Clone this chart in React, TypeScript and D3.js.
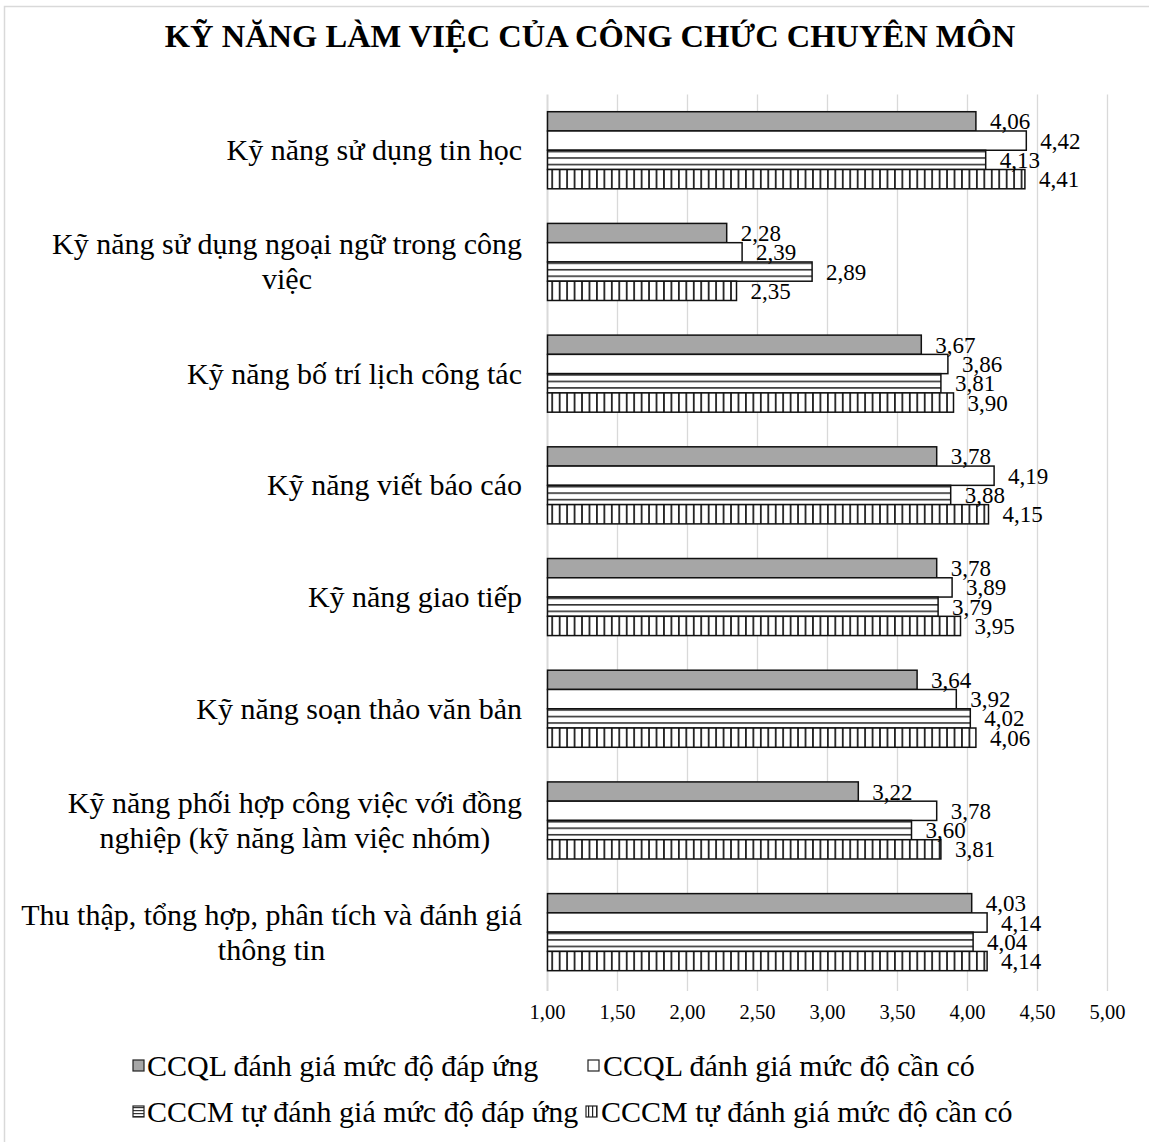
import React from "react";
import * as d3 from "d3";

const categories: string[][] = [
  ["Kỹ năng sử dụng tin học"],
  ["Kỹ năng sử dụng ngoại ngữ trong công", "việc"],
  ["Kỹ năng bố trí lịch công tác"],
  ["Kỹ năng viết báo cáo"],
  ["Kỹ năng giao tiếp"],
  ["Kỹ năng soạn thảo văn bản"],
  ["Kỹ năng phối hợp công việc với đồng", "nghiệp (kỹ năng làm việc nhóm)"],
  ["Thu thập, tổng hợp, phân tích và đánh giá", "thông tin"],
];

const seriesNames = [
  "CCQL đánh giá mức độ đáp ứng",
  "CCQL đánh giá mức độ cần có",
  "CCCM tự đánh giá mức độ đáp ứng",
  "CCCM tự đánh giá mức độ cần có",
];

const ccqlDapUng = [4.06, 2.28, 3.67, 3.78, 3.78, 3.64, 3.22, 4.03];
const ccqlCanCo = [4.42, 2.39, 3.86, 4.19, 3.89, 3.92, 3.78, 4.14];
const cccmDapUng = [4.13, 2.89, 3.81, 3.88, 3.79, 4.02, 3.6, 4.04];
const cccmCanCo = [4.41, 2.35, 3.9, 4.15, 3.95, 4.06, 3.81, 4.14];

const tickValues = [1, 1.5, 2, 2.5, 3, 3.5, 4, 4.5, 5];

const seriesData = [ccqlDapUng, ccqlCanCo, cccmDapUng, cccmCanCo];
const fills = ["#a6a6a6", "#ffffff", "url(#hstripe)", "url(#vstripe)"];
const legendFills = ["#a6a6a6", "#ffffff", "url(#hstripeS)", "url(#vstripeS)"];

const fmt = (v: number) => v.toFixed(2).replace(".", ",");
const FONT = "'Liberation Serif', 'Times New Roman', serif";

export default function App() {
  const W = 1149;
  const H = 1142;
  const x = d3.scaleLinear().domain([1, 5]).range([547.5, 1107.5]);
  const catKeys = categories.map((c) => c.join(" "));
  const y = d3
    .scaleBand<string>()
    .domain(catKeys)
    .range([94.4, 988])
    .paddingInner(0.31)
    .paddingOuter(0.155);
  const inner = d3
    .scaleBand<number>()
    .domain([0, 1, 2, 3])
    .range([0, y.bandwidth()]);

  const legendItems = [
    { sx: 133, tx: 147, y: 1066 },
    { sx: 588, tx: 603, y: 1066 },
    { sx: 133, tx: 147, y: 1112 },
    { sx: 586, tx: 601, y: 1112 },
  ];

  return (
    <svg
      width={W}
      height={H}
      style={{ position: "absolute", left: 0, top: 0, background: "#fff" }}
      fontFamily={FONT}
    >
      <defs>
        <pattern id="hstripe" patternUnits="userSpaceOnUse" width={8} height={6.5}>
          <rect width={8} height={6.5} fill="#fff" />
          <rect y={0} width={8} height={1.6} fill="#333" />
        </pattern>
        <pattern id="vstripe" patternUnits="userSpaceOnUse" width={7.45} height={8}>
          <rect width={7.45} height={8} fill="#fff" />
          <rect x={0} width={1.8} height={8} fill="#222" />
        </pattern>
        <pattern id="hstripeS" patternUnits="userSpaceOnUse" width={4} height={3}>
          <rect width={4} height={3} fill="#fff" />
          <rect y={0} width={4} height={1.2} fill="#333" />
        </pattern>
        <pattern id="vstripeS" patternUnits="userSpaceOnUse" width={4} height={4}>
          <rect width={4} height={4} fill="#fff" />
          <rect x={0} width={1.2} height={4} fill="#222" />
        </pattern>
      </defs>
      <rect x={0} y={0} width={W} height={H} fill="#fff" />
      <rect x={4.5} y={6.5} width={W + 20} height={H + 20} fill="none" stroke="#d9d9d9" strokeWidth={1.5} />

      <text x={590} y={47} textAnchor="middle" fontSize={32.5} fontWeight="bold">
        KỸ NĂNG LÀM VIỆC CỦA CÔNG CHỨC CHUYÊN MÔN
      </text>

      {/* gridlines */}
      {tickValues.map((t) => (
        <line
          key={t}
          x1={x(t)}
          x2={x(t)}
          y1={94.4}
          y2={991}
          stroke="#d9d9d9"
          strokeWidth={t === 1 ? 2 : 1.3}
        />
      ))}

      {/* tick labels */}
      {tickValues.map((t) => (
        <text key={"l" + t} x={x(t)} y={1019} textAnchor="middle" fontSize={20.5} fill="#000">
          {fmt(t)}
        </text>
      ))}

      {/* bars */}
      {catKeys.map((k, ci) => (
        <g key={k} transform={`translate(0,${y(k)})`}>
          {seriesData.map((s, si) => (
            <rect
              key={si}
              x={x(1)}
              y={inner(si)}
              width={x(s[ci]) - x(1)}
              height={inner.bandwidth()}
              fill={fills[si]}
              stroke="#111"
              strokeWidth={1.5}
            />
          ))}
          {seriesData.map((s, si) => (
            <text
              key={"v" + si}
              x={x(s[ci]) + 14}
              y={(inner(si) as number) + inner.bandwidth() / 2 + 8}
              fontSize={23}
              fill="#000"
            >
              {fmt(s[ci])}
            </text>
          ))}
        </g>
      ))}

      {/* category labels */}
      {categories.map((lines, ci) => {
        const cy = (y(catKeys[ci]) as number) + y.bandwidth() / 2;
        const lh = 35;
        const top = cy - ((lines.length - 1) * lh) / 2;
        return (
          <g key={"c" + ci}>
            {lines.map((ln, li) => (
              <text
                key={li}
                x={lines.length > 1 ? 0 : 522}
                y={top + li * lh + 10}
                textAnchor={lines.length > 1 ? "middle" : "end"}
                fontSize={30}
                fill="#000"
                className={lines.length > 1 ? "ml" : undefined}
                data-ci={ci}
              >
                {ln}
              </text>
            ))}
          </g>
        );
      })}

      {/* legend */}
      {legendItems.map((it, i) => (
        <g key={"lg" + i}>
          <rect
            x={it.sx}
            y={it.y - 6}
            width={11}
            height={11}
            fill={legendFills[i]}
            stroke="#222"
            strokeWidth={1.2}
          />
          <text x={it.tx} y={it.y + 10} fontSize={30} fill="#000">
            {seriesNames[i]}
          </text>
        </g>
      ))}
      <MultiLineFix />
    </svg>
  );
}

function MultiLineFix() {
  const ref = React.useRef<SVGGElement>(null);
  React.useEffect(() => {
    const svg = ref.current?.ownerSVGElement;
    if (!svg) return;
    const groups: Record<string, SVGTextElement[]> = {};
    svg.querySelectorAll<SVGTextElement>("text.ml").forEach((t) => {
      const k = t.getAttribute("data-ci") || "";
      (groups[k] = groups[k] || []).push(t);
    });
    Object.values(groups).forEach((ts) => {
      const w = Math.max(...ts.map((t) => t.getComputedTextLength()));
      const cx = 522 - w / 2;
      ts.forEach((t) => t.setAttribute("x", String(cx)));
    });
  }, []);
  return <g ref={ref} />;
}
